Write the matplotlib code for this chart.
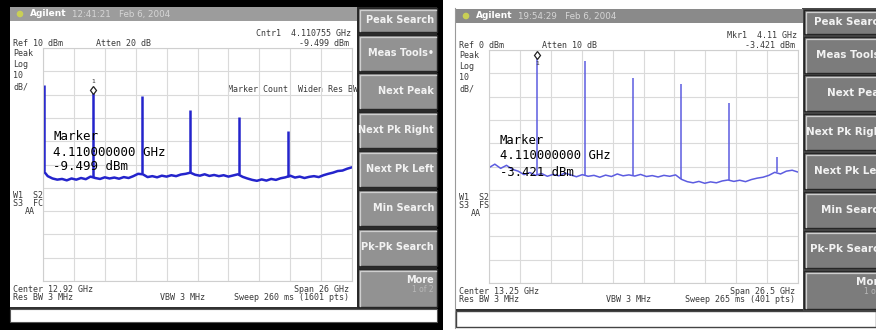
import numpy as np
import matplotlib
matplotlib.use("Agg")
import matplotlib.pyplot as plt
from matplotlib.patches import Rectangle, Circle

W, H = 876, 330

# ---- values read off the two analyzer screens ----
# left screen: Center 12.92 GHz, Span 26 GHz, Ref 10 dBm, 10 dB/div
left_start_ghz, left_stop_ghz, left_ref_dbm = -0.08, 25.92, 10
left_floor_dbm = [
    -42.5, -45.0, -46.0, -46.5, -46.2, -46.8, -46.0, -46.5, -45.8, -46.3,
    -45.2, -45.8, -46.2, -45.5, -46.0, -45.6, -46.1, -45.4, -45.8, -45.0,
    -44.0, -44.2, -45.4, -45.0, -45.5, -44.8, -45.2, -44.6, -45.0, -44.3,
    -44.0, -43.5, -44.4, -44.8, -44.2, -44.9, -44.5, -45.0, -44.6, -45.2,
    -44.7, -44.2, -45.3, -46.0, -46.6, -47.0, -46.4, -46.9, -46.2, -46.6,
    -45.9, -45.5, -44.8, -45.6, -45.2, -45.8, -45.3, -45.0, -45.4, -44.6,
    -44.0, -43.5, -42.8, -42.6, -41.8, -41.2,
]
left_peak_ghz = [0.0, 4.11, 8.22, 12.33, 16.44, 20.55]
left_peak_dbm = [-6.0, -9.499, -10.6, -16.6, -19.5, -25.6]
left_peak_base = [-43.0, -45.5, -43.5, -43.5, -44.2, -45.5]
left_header = ["Cntr1  4.110755 GHz", "-9.499 dBm"]
left_readout = ["Marker", "4.110000000 GHz", "-9.499 dBm"]
left_footer = ["Center 12.92 GHz", "Res BW 3 MHz", "VBW 3 MHz",
               "Span 26 GHz", "Sweep 260 ms (1601 pts)"]

# right screen: Center 13.25 GHz, Span 26.5 GHz, Ref 0 dBm, 10 dB/div
right_start_ghz, right_stop_ghz, right_ref_dbm = 0.0, 26.5, 0
right_floor_dbm = [
    -50.5, -49.0, -50.8, -49.5, -51.2, -52.0, -53.5, -52.6, -53.8, -53.0,
    -54.2, -53.4, -54.0, -52.8, -53.6, -54.4, -53.5, -54.2, -53.8, -54.6,
    -53.7, -54.3, -53.2, -54.0, -53.6, -54.1, -53.4, -54.3, -53.9, -54.5,
    -53.8, -54.2, -53.6, -55.5, -56.5, -57.0, -56.4, -57.2, -56.6, -57.0,
    -56.2, -55.8, -56.4, -55.9, -56.5, -55.6, -55.0, -54.6, -53.8, -52.5,
    -53.2, -52.0, -51.6, -52.4,
]
right_peak_ghz = [0.0, 4.11, 8.22, 12.33, 16.44, 20.55, 24.66]
right_peak_dbm = [-16.3, -3.421, -4.8, -12.1, -14.7, -22.6, -46.0]
right_peak_base = [-50.5, -53.8, -53.5, -53.6, -55.5, -56.0, -52.5]
right_header = ["Mkr1  4.11 GHz", "-3.421 dBm"]
right_readout = ["Marker", "4.110000000 GHz", "-3.421 dBm"]
right_footer = ["Center 13.25 GHz", "Res BW 3 MHz", "VBW 3 MHz",
                "Span 26.5 GHz", "Sweep 265 ms (401 pts)"]

softkey_names = ["Peak Search", "Meas Tools\u2022", "Next Peak", "Next Pk Right",
                 "Next Pk Left", "Min Search", "Pk-Pk Search", "More"]
marker_ghz = 4.11

fig = plt.figure(figsize=(W / 100, H / 100), dpi=100)
fig.patch.set_facecolor("white")
bg = fig.add_axes([0, 0, 1, 1])
bg.set_xlim(0, W)
bg.set_ylim(H, 0)
bg.axis("off")

MONO = "DejaVu Sans Mono"


def rect(x0, y0, x1, y1, fc, ec="none", lw=0.0, z=1):
    bg.add_patch(Rectangle((x0, y0), x1 - x0, y1 - y0, facecolor=fc,
                           edgecolor=ec, linewidth=lw, zorder=z))


def label(x, y, s, size=6, color="#3a3a3a", ha="left", weight="normal", family=MONO):
    fig.text(x / W, 1 - y / H, s, fontsize=size, color=color, ha=ha, va="center",
             fontweight=weight, family=family)


def softkeys(x0, x1, oy, face, text_x, size):
    tops = [8, 35, 73, 112, 151, 190, 229, 269]
    bots = [32, 71, 109, 148, 187, 226, 266, 307]
    for name, t, b in zip(softkey_names, tops, bots):
        t, b = t + oy, b + oy
        rect(x0, t, x1, b, face, ec="#262626", lw=1.0, z=2)
        bg.plot([x0 + 1.5, x0 + 1.5, x1 - 1.5], [b - 1.5, t + 1.5, t + 1.5],
                color="#cfcfcf", lw=0.9, zorder=3)
        if name == "More":
            label(text_x, t + 11, name, size=size, color="#f2f2f2", ha="right",
                  weight="bold", family="DejaVu Sans")
            label(text_x, t + 20, "1 of 2", size=5.5, color="#b8b8b8", ha="right",
                  family="DejaVu Sans")
        else:
            label(text_x, (t + b) / 2, name, size=size, color="#f2f2f2", ha="right",
                  weight="bold", family="DejaVu Sans")


def screen(ox, oy, title_bg, stamp, ref_dbm, atten, status, header, footer):
    rect(ox + 10, oy + 7, ox + 357, oy + 21, title_bg, z=2)
    rect(ox + 10, oy + 21, ox + 357, oy + 307, "white", z=1)
    rect(ox + 10, oy + 307, ox + 357, oy + 309, "#303030", z=2)
    bg.add_patch(Circle((ox + 20, oy + 14), 2.6, color="#c9cf55", zorder=3))
    label(ox + 30, oy + 14, "Agilent", size=6.5, color="white", weight="bold",
          family="DejaVu Sans")
    label(ox + 72, oy + 14, stamp, size=6.3, color="#d6d6d6", family="DejaVu Sans")
    label(ox + 351, oy + 33, header[0], ha="right")
    label(ox + 349, oy + 43, header[1], ha="right")
    label(ox + 13, oy + 43, "Ref %d dBm" % ref_dbm)
    label(ox + 96, oy + 43, "Atten %d dB" % atten)
    for i, s in enumerate(["Peak", "Log", "10", "dB/"]):
        label(ox + 13, oy + 53 + i * 11.5, s)
    label(ox + 13, oy + 195, "W1  S2")
    label(ox + 13, oy + 204, "S3  " + status)
    label(ox + 25, oy + 212, "AA")
    label(ox + 13, oy + 289, footer[0])
    label(ox + 13, oy + 298, footer[1])
    label(ox + 160, oy + 298, footer[2])
    label(ox + 349, oy + 289, footer[3], ha="right")
    label(ox + 349, oy + 298, footer[4], ha="right")


def spectrum(ox, oy, start, stop, ref, floor, pk_f, pk_db, pk_base, color, lw):
    ax = fig.add_axes([(ox + 43) / W, 1 - (oy + 281) / H, 309 / W, 233 / H])
    ax.set_zorder(5)
    ax.patch.set_alpha(0)
    f = np.linspace(start, stop, len(floor))
    ax.plot(f, floor, color=color, lw=lw)
    ax.vlines(pk_f, pk_base, pk_db, color=color, lw=lw)
    ax.set_xlim(start, stop)
    ax.set_ylim(ref - 100, ref)
    ax.set_xticks(np.linspace(start, stop, 11))
    ax.set_yticks(np.linspace(ref - 100, ref, 11))
    ax.tick_params(length=0, labelbottom=False, labelleft=False)
    ax.grid(color="#dadada", lw=0.8)
    ax.set_axisbelow(True)
    for sp in ax.spines.values():
        sp.set_color("#cfcfcf")
        sp.set_linewidth(0.8)
    return ax


# ---- left screen (black bezel) ----
rect(0, 0, 443, 330, "black", z=0)
rect(356, 7, 437, 309, "#2c2c2c", z=1)
softkeys(358, 437, 0, "#929292", 434, 7)
screen(0, 0, "#9c9c9c", "12:41:21   Feb 6, 2004", left_ref_dbm, 20, "FC",
       left_header, left_footer)
rect(10, 309, 437, 322, "white", ec="#555555", lw=0.8, z=2)
label(228, 90, "Marker Count: Widen Res BW")
axl = spectrum(0, 0, left_start_ghz, left_stop_ghz, left_ref_dbm, left_floor_dbm,
               left_peak_ghz, left_peak_dbm, left_peak_base, "#2424cc", 1.8)
axl.plot(marker_ghz, left_peak_dbm[1] + 1.5, marker="d", ms=4.5, mfc="white",
         mec="#222222", mew=0.9, clip_on=False)
axl.text(marker_ghz, left_peak_dbm[1] + 5, "1", fontsize=4.5, ha="center",
         va="center", color="#333333")
for i, s in enumerate(left_readout):
    fig.text(53 / W, 1 - (137 + i * 15) / H, s, fontsize=9, family=MONO,
             color="black", va="center", zorder=10)

# ---- right screen (light frame) ----
bg.plot([455, 455], [8, 328], color="#9a9a9a", lw=0.8, zorder=2)
rect(802, 8, 876, 311, "#4a4a4a", z=1)
softkeys(804, 884, 2, "#7c7c7c", 886, 7.4)
screen(446, 2, "#8a8a8a", "19:54:29   Feb 6, 2004", right_ref_dbm, 10, "FS",
       right_header, right_footer)
rect(456, 311, 876, 327, "white", ec="#444444", lw=1.0, z=2)
axr = spectrum(446, 2, right_start_ghz, right_stop_ghz, right_ref_dbm, right_floor_dbm,
               right_peak_ghz, right_peak_dbm, right_peak_base, "#5c5ce0", 1.1)
axr.plot(marker_ghz, right_peak_dbm[1] + 1.4, marker="d", ms=4.5, mfc="white",
         mec="#222222", mew=0.9, clip_on=False)
axr.text(marker_ghz, right_peak_dbm[1] - 2.2, "1", fontsize=4.5, ha="center",
         va="center", color="#333333")
for i, s in enumerate(right_readout):
    fig.text(500 / W, 1 - (140 + i * 16) / H, s, fontsize=8.8, family=MONO,
             color="black", va="center", zorder=10)

fig.savefig("out.png", dpi=100)
